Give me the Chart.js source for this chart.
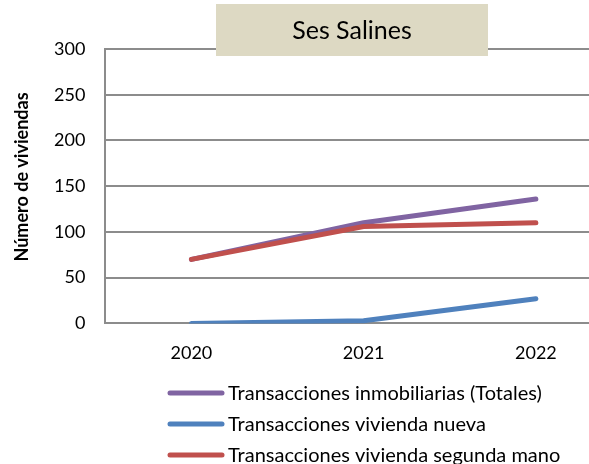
<!DOCTYPE html>
<html>
<head>
<meta charset="utf-8">
<script src="https://cdn.jsdelivr.net/npm/chart.js@4.4.0/dist/chart.umd.min.js"></script>
<style>
  html, body { margin: 0; padding: 0; background: #fff; overflow: hidden; }
  #wrap { width: 589px; height: 464px; overflow: hidden; }
</style>
</head>
<body>
<div id="wrap"><canvas id="lineChart" width="622" height="464"></canvas></div>
<script>
var years = ['2020', '2021', '2022'];
var totales = [70, 110, 136];
var nueva = [0, 3, 27];
var segunda = [70, 106, 110];
var seriesNames = ['Transacciones inmobiliarias (Totales)', 'Transacciones vivienda nueva', 'Transacciones vivienda segunda mano'];
var yTicks = [0, 50, 100, 150, 200, 250, 300];

var FONT = 'Lato, "Open Sans", sans-serif';
var gridColor = '#8c8c8c';

// title box, y axis title and stacked legend, drawn over the chart
var overlay = {
    id: 'overlay',
    afterDraw: function (chart) {
        var ctx = chart.ctx;
        ctx.save();
        ctx.fillStyle = '#ddd9c3';
        ctx.fillRect(216, 4, 272, 52);
        ctx.fillStyle = '#000';
        ctx.font = '25px ' + FONT;
        ctx.textAlign = 'center';
        ctx.textBaseline = 'middle';
        ctx.fillText(chart.options.plugins.title.text, 352, 31);

        ctx.save();
        ctx.translate(22, 177);
        ctx.rotate(-Math.PI / 2);
        ctx.font = 'bold 18px ' + FONT;
        ctx.fillText(chart.options.scales.y.title.text, 0, 0);
        ctx.restore();

        ctx.font = '20px ' + FONT;
        ctx.textAlign = 'left';
        chart.data.datasets.forEach(function (ds, i) {
            var y = 393 + i * 31;
            ctx.strokeStyle = ds.borderColor;
            ctx.lineWidth = 5;
            ctx.lineCap = 'round';
            ctx.beginPath();
            ctx.moveTo(170, y);
            ctx.lineTo(222, y);
            ctx.stroke();
            ctx.fillStyle = '#000';
            ctx.fillText(ds.label, 228, y + 1);
        });
        ctx.restore();
    }
};

var ctxLine = document.getElementById('lineChart').getContext('2d');
var lineChart = new Chart(ctxLine, {
    type: 'line',
    data: {
        labels: years,
        datasets: [{
            label: seriesNames[0],
            data: totales,
            borderColor: '#8064a2',
            order: 2
        }, {
            label: seriesNames[1],
            data: nueva,
            borderColor: '#4f81bd',
            order: 1
        }, {
            label: seriesNames[2],
            data: segunda,
            borderColor: '#c0504d',
            order: 0
        }]
    },
    options: {
        responsive: false,
        animation: false,
        layout: { padding: { left: 34, right: 0, top: 49, bottom: 81 } },
        elements: {
            line: { borderWidth: 5, borderCapStyle: 'round', borderJoinStyle: 'round', tension: 0 },
            point: { radius: 0, hoverRadius: 0 }
        },
        plugins: {
            legend: { display: false },
            tooltip: { enabled: false },
            title: { display: false, text: 'Ses Salines' }
        },
        scales: {
            x: {
                offset: true,
                grid: { display: false, drawTicks: false },
                border: { display: true, color: gridColor, width: 2 },
                ticks: { color: '#000', padding: 19, font: { family: FONT, size: 18 } }
            },
            y: {
                min: 0,
                max: 300,
                afterBuildTicks: function (axis) {
                    axis.ticks = yTicks.map(function (v) { return { value: v }; });
                },
                grid: { color: gridColor, lineWidth: 2, drawTicks: false },
                border: { display: true, color: gridColor, width: 2 },
                ticks: { color: '#000', padding: 20, font: { family: FONT, size: 18 } },
                title: { display: false, text: 'Número de viviendas' }
            }
        }
    },
    plugins: [overlay]
});
</script>
</body>
</html>
